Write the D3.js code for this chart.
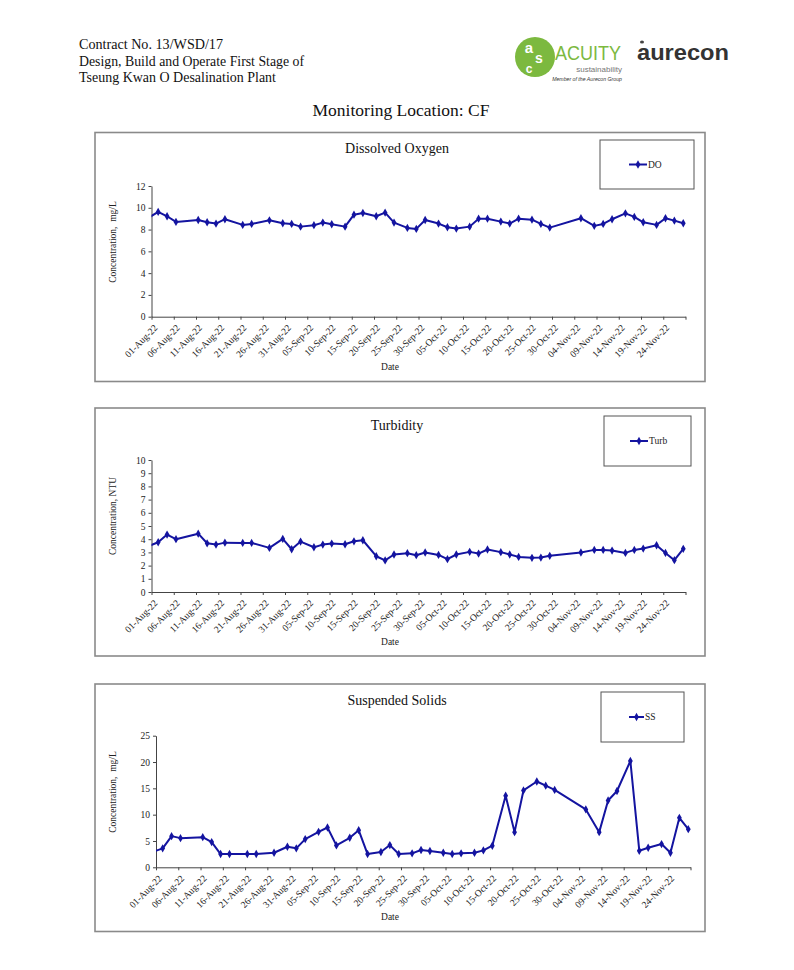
<!DOCTYPE html>
<html><head><meta charset="utf-8">
<script src="https://cdn.jsdelivr.net/npm/d3@7"></script>
<style>
html,body{margin:0;padding:0;background:#fff;}
svg{display:block;}
</style></head>
<body><svg id="page" width="794" height="970"></svg>
<script>
// ---------- DATA ----------
const sampleDates = ["2022-07-30","2022-08-02","2022-08-04","2022-08-06","2022-08-11","2022-08-13","2022-08-15","2022-08-17","2022-08-21","2022-08-23","2022-08-27","2022-08-30","2022-09-01","2022-09-03","2022-09-06","2022-09-08","2022-09-10","2022-09-13","2022-09-15","2022-09-17","2022-09-20","2022-09-22","2022-09-24","2022-09-27","2022-09-29","2022-10-01","2022-10-04","2022-10-06","2022-10-08","2022-10-11","2022-10-13","2022-10-15","2022-10-18","2022-10-20","2022-10-22","2022-10-25","2022-10-27","2022-10-29","2022-11-05","2022-11-08","2022-11-10","2022-11-12","2022-11-15","2022-11-17","2022-11-19","2022-11-22","2022-11-24","2022-11-26","2022-11-28"];
const doValues = [8.88,9.62,9.22,8.7,8.88,8.67,8.55,8.95,8.43,8.52,8.85,8.58,8.52,8.27,8.4,8.64,8.49,8.27,9.37,9.52,9.22,9.55,8.64,8.15,8.06,8.88,8.55,8.21,8.09,8.27,9.0,9.0,8.73,8.55,9.0,8.91,8.52,8.18,9.04,8.34,8.52,8.95,9.49,9.16,8.67,8.43,9.04,8.82,8.58];
const turbValues = [3.37,3.77,4.35,4.0,4.42,3.69,3.59,3.74,3.72,3.72,3.34,4.02,3.24,3.82,3.39,3.59,3.67,3.62,3.84,3.92,2.71,2.39,2.84,2.94,2.79,2.99,2.81,2.49,2.84,3.04,2.91,3.22,3.02,2.84,2.66,2.59,2.61,2.74,2.99,3.19,3.19,3.14,2.96,3.19,3.29,3.54,2.96,2.41,3.27];
const ssValues = [2.7,3.6,5.92,5.54,5.73,4.79,2.52,2.52,2.52,2.52,2.77,3.9,3.6,5.36,6.74,7.56,4.16,5.61,7.06,2.52,2.9,4.22,2.52,2.65,3.28,3.09,2.77,2.52,2.65,2.77,3.21,4.1,13.6,6.68,14.6,16.3,15.5,14.7,11.0,6.68,12.7,14.5,20.2,3.15,3.72,4.41,2.77,9.39,7.25];
const axisStart = "2022-08-01";
const axisEnd = "2022-11-29";
const tickLabels = ["01-Aug-22","06-Aug-22","11-Aug-22","16-Aug-22","21-Aug-22","26-Aug-22","31-Aug-22","05-Sep-22","10-Sep-22","15-Sep-22","20-Sep-22","25-Sep-22","30-Sep-22","05-Oct-22","10-Oct-22","15-Oct-22","20-Oct-22","25-Oct-22","30-Oct-22","04-Nov-22","09-Nov-22","14-Nov-22","19-Nov-22","24-Nov-22"];
const chartTitles = ["Dissolved Oxygen","Turbidity","Suspended Solids"];
const seriesNames = ["DO","Turb","SS"];
const yAxisTitles = ["Concentration,  mg/L","Concentration, NTU","Concentration,  mg/L"];
const yMaxes = [12,10,25];
const yTickSteps = [2,1,5];
const headerLines = ["Contract No. 13/WSD/17","Design, Build and Operate First Stage of","Tseung Kwan O Desalination Plant"];
const pageTitle = "Monitoring Location: CF";

// ---------- LAYOUT ----------
const svg = d3.select("#page");
const serif = "'Liberation Serif','Times New Roman',serif";
const sans = "'Liberation Sans',Arial,sans-serif";
const lineColor = "#1414a0";
const parse = d3.utcParse("%Y-%m-%d");
const fmtTick = d3.utcFormat("%d-%b-%y");

// header
const hdrW = [144, 225, 197];
headerLines.forEach((t,i)=>{
  svg.append("text").attr("x",79).attr("y",49+i*16.5)
    .attr("font-family",serif).attr("font-size",14.5).attr("fill","#111")
    .attr("textLength",hdrW[i]).attr("lengthAdjust","spacingAndGlyphs").text(t);
});

// logos
const logo = svg.append("g");
logo.append("circle").attr("cx",535).attr("cy",57).attr("r",20).attr("fill","#7cb93f");
[["a",529,53,15],["s",539,63,14],["c",529,73,12]].forEach(([t,x,y,s])=>{
  logo.append("text").attr("x",x).attr("y",y).attr("text-anchor","middle")
    .attr("font-family",sans).attr("font-weight","bold").attr("font-size",s).attr("fill","#fff").text(t);
});
logo.append("text").attr("x",555).attr("y",60).attr("font-family",sans).attr("font-size",20)
  .attr("fill","#7cb93f").attr("textLength",66).attr("lengthAdjust","spacingAndGlyphs").text("ACUITY");
logo.append("text").attr("x",622).attr("y",72).attr("text-anchor","end").attr("font-family",sans)
  .attr("font-size",8).attr("fill","#777").text("sustainability");
logo.append("text").attr("x",622).attr("y",81).attr("text-anchor","end").attr("font-family",sans)
  .attr("font-size",5.2).attr("font-style","italic").attr("fill","#333").text("Member of the Aurecon Group");
logo.append("text").attr("x",637).attr("y",60).attr("font-family",sans).attr("font-weight","bold")
  .attr("font-size",22).attr("fill","#333").attr("textLength",92).attr("lengthAdjust","spacingAndGlyphs").text("aurecon");
logo.append("ellipse").attr("cx",642).attr("cy",42).attr("rx",2).attr("ry",1.6).attr("fill","#444");

// page title
svg.append("text").attr("x",401).attr("y",116).attr("text-anchor","middle")
  .attr("font-family",serif).attr("font-size",17.5).attr("fill","#111").text(pageTitle);

const charts = [
  {values:doValues, frame:[95,132.5,610,249], px:[151.5,685.5], py:[316.7,186], titleY:153,
   legend:[600,140,94,49], legY:164.5, legX:[629,647], ylabY:242, dateY:370},
  {values:turbValues, frame:[95,408,610,248], px:[151.5,685.5], py:[592,460], titleY:430,
   legend:[604,416,87,50], legY:441, legX:[630,648], ylabY:516, dateY:645},
  {values:ssValues, frame:[95,684,610,247.5], px:[156,690.5], py:[867.3,735.7], titleY:705,
   legend:[601,692,83,50], legY:717, legX:[629,644], ylabY:792, dateY:920}
];

const tickDates = d3.utcDay.range(parse(axisStart), d3.utcDay.offset(parse(axisEnd),1), 5);

charts.forEach((c,ci)=>{
  const g = svg.append("g");
  const [fx,fy,fw,fh] = c.frame;
  g.append("rect").attr("x",fx).attr("y",fy).attr("width",fw).attr("height",fh)
    .attr("fill","#fff").attr("stroke","#8a8a8a").attr("stroke-width",1.6);

  const x = d3.scaleUtc().domain([parse(axisStart), parse(axisEnd)]).range(c.px);
  const y = d3.scaleLinear().domain([0, yMaxes[ci]]).range(c.py);

  // title
  g.append("text").attr("x",397).attr("y",c.titleY).attr("text-anchor","middle")
    .attr("font-family",serif).attr("font-size",14).attr("fill","#111").text(chartTitles[ci]);

  // y axis
  const yTicks = d3.range(0, yMaxes[ci]+0.001, yTickSteps[ci]);
  const yAxis = g.append("g").attr("transform",`translate(${c.px[0]},0)`)
    .call(d3.axisLeft(y).tickValues(yTicks).tickSize(3).tickSizeOuter(0).tickPadding(3).tickFormat(d3.format("d")));
  yAxis.select(".domain").attr("stroke","#444");
  yAxis.selectAll(".tick line").attr("stroke","#444");
  yAxis.selectAll("text").attr("font-family",serif).attr("font-size",9.5).attr("fill","#222");

  // x axis
  const xAxis = g.append("g").attr("transform",`translate(0,${c.py[0]})`)
    .call(d3.axisBottom(x).tickValues(tickDates).tickSize(3).tickSizeOuter(0).tickFormat(""));
  xAxis.select(".domain").attr("stroke","#444");
  xAxis.selectAll(".tick line").attr("stroke","#444");
  tickLabels.forEach(lbl=>{
    const d = d3.utcParse("%d-%b-%y")(lbl);
    g.append("text").attr("transform",`translate(${x(d)+2},${c.py[0]+7}) rotate(-45)`)
      .attr("text-anchor","end").attr("dy","0.7em")
      .attr("font-family",serif).attr("font-size",9.5).attr("fill","#222").text(fmtTick(d));
  });

  // axis titles
  g.append("text").attr("transform",`translate(116,${c.ylabY}) rotate(-90)`).attr("text-anchor","middle")
    .attr("font-family",serif).attr("font-size",9.5).attr("fill","#222").style("white-space","pre").text(yAxisTitles[ci]);
  g.append("text").attr("x",390).attr("y",c.dateY).attr("text-anchor","middle")
    .attr("font-family",serif).attr("font-size",9.5).attr("fill","#222").text("Date");

  // clip for plot area
  const clipId = "clip"+ci;
  svg.append("clipPath").attr("id",clipId).append("rect")
    .attr("x",c.px[0]).attr("y",c.py[1]-20).attr("width",c.px[1]-c.px[0]+10).attr("height",c.py[0]-c.py[1]+30);

  const pts = sampleDates.map((s,i)=>({d:d3.utcHour.offset(parse(s),12), v:c.values[i]}));
  const plot = g.append("g").attr("clip-path",`url(#${clipId})`);
  plot.append("path").datum(pts)
    .attr("d", d3.line().x(p=>x(p.d)).y(p=>y(p.v)))
    .attr("fill","none").attr("stroke",lineColor).attr("stroke-width",2).attr("stroke-linejoin","round");
  plot.selectAll("path.m").data(pts).join("path").attr("class","m")
    .attr("transform",p=>`translate(${x(p.d)},${y(p.v)})`)
    .attr("d", d3.symbol().type(d3.symbolDiamond).size(20))
    .attr("fill",lineColor);

  // legend
  const [lx,ly,lw,lh] = c.legend;
  g.append("rect").attr("x",lx).attr("y",ly).attr("width",lw).attr("height",lh)
    .attr("fill","#fff").attr("stroke","#555").attr("stroke-width",1);
  g.append("line").attr("x1",c.legX[0]).attr("x2",c.legX[1]).attr("y1",c.legY).attr("y2",c.legY)
    .attr("stroke",lineColor).attr("stroke-width",2);
  g.append("path").attr("transform",`translate(${(c.legX[0]+c.legX[1])/2},${c.legY})`)
    .attr("d", d3.symbol().type(d3.symbolDiamond).size(20)).attr("fill",lineColor);
  g.append("text").attr("x",c.legX[1]+1).attr("y",c.legY+3.3)
    .attr("font-family",serif).attr("font-size",9.5).attr("fill","#222").text(seriesNames[ci]);
});
</script>
</body></html>
